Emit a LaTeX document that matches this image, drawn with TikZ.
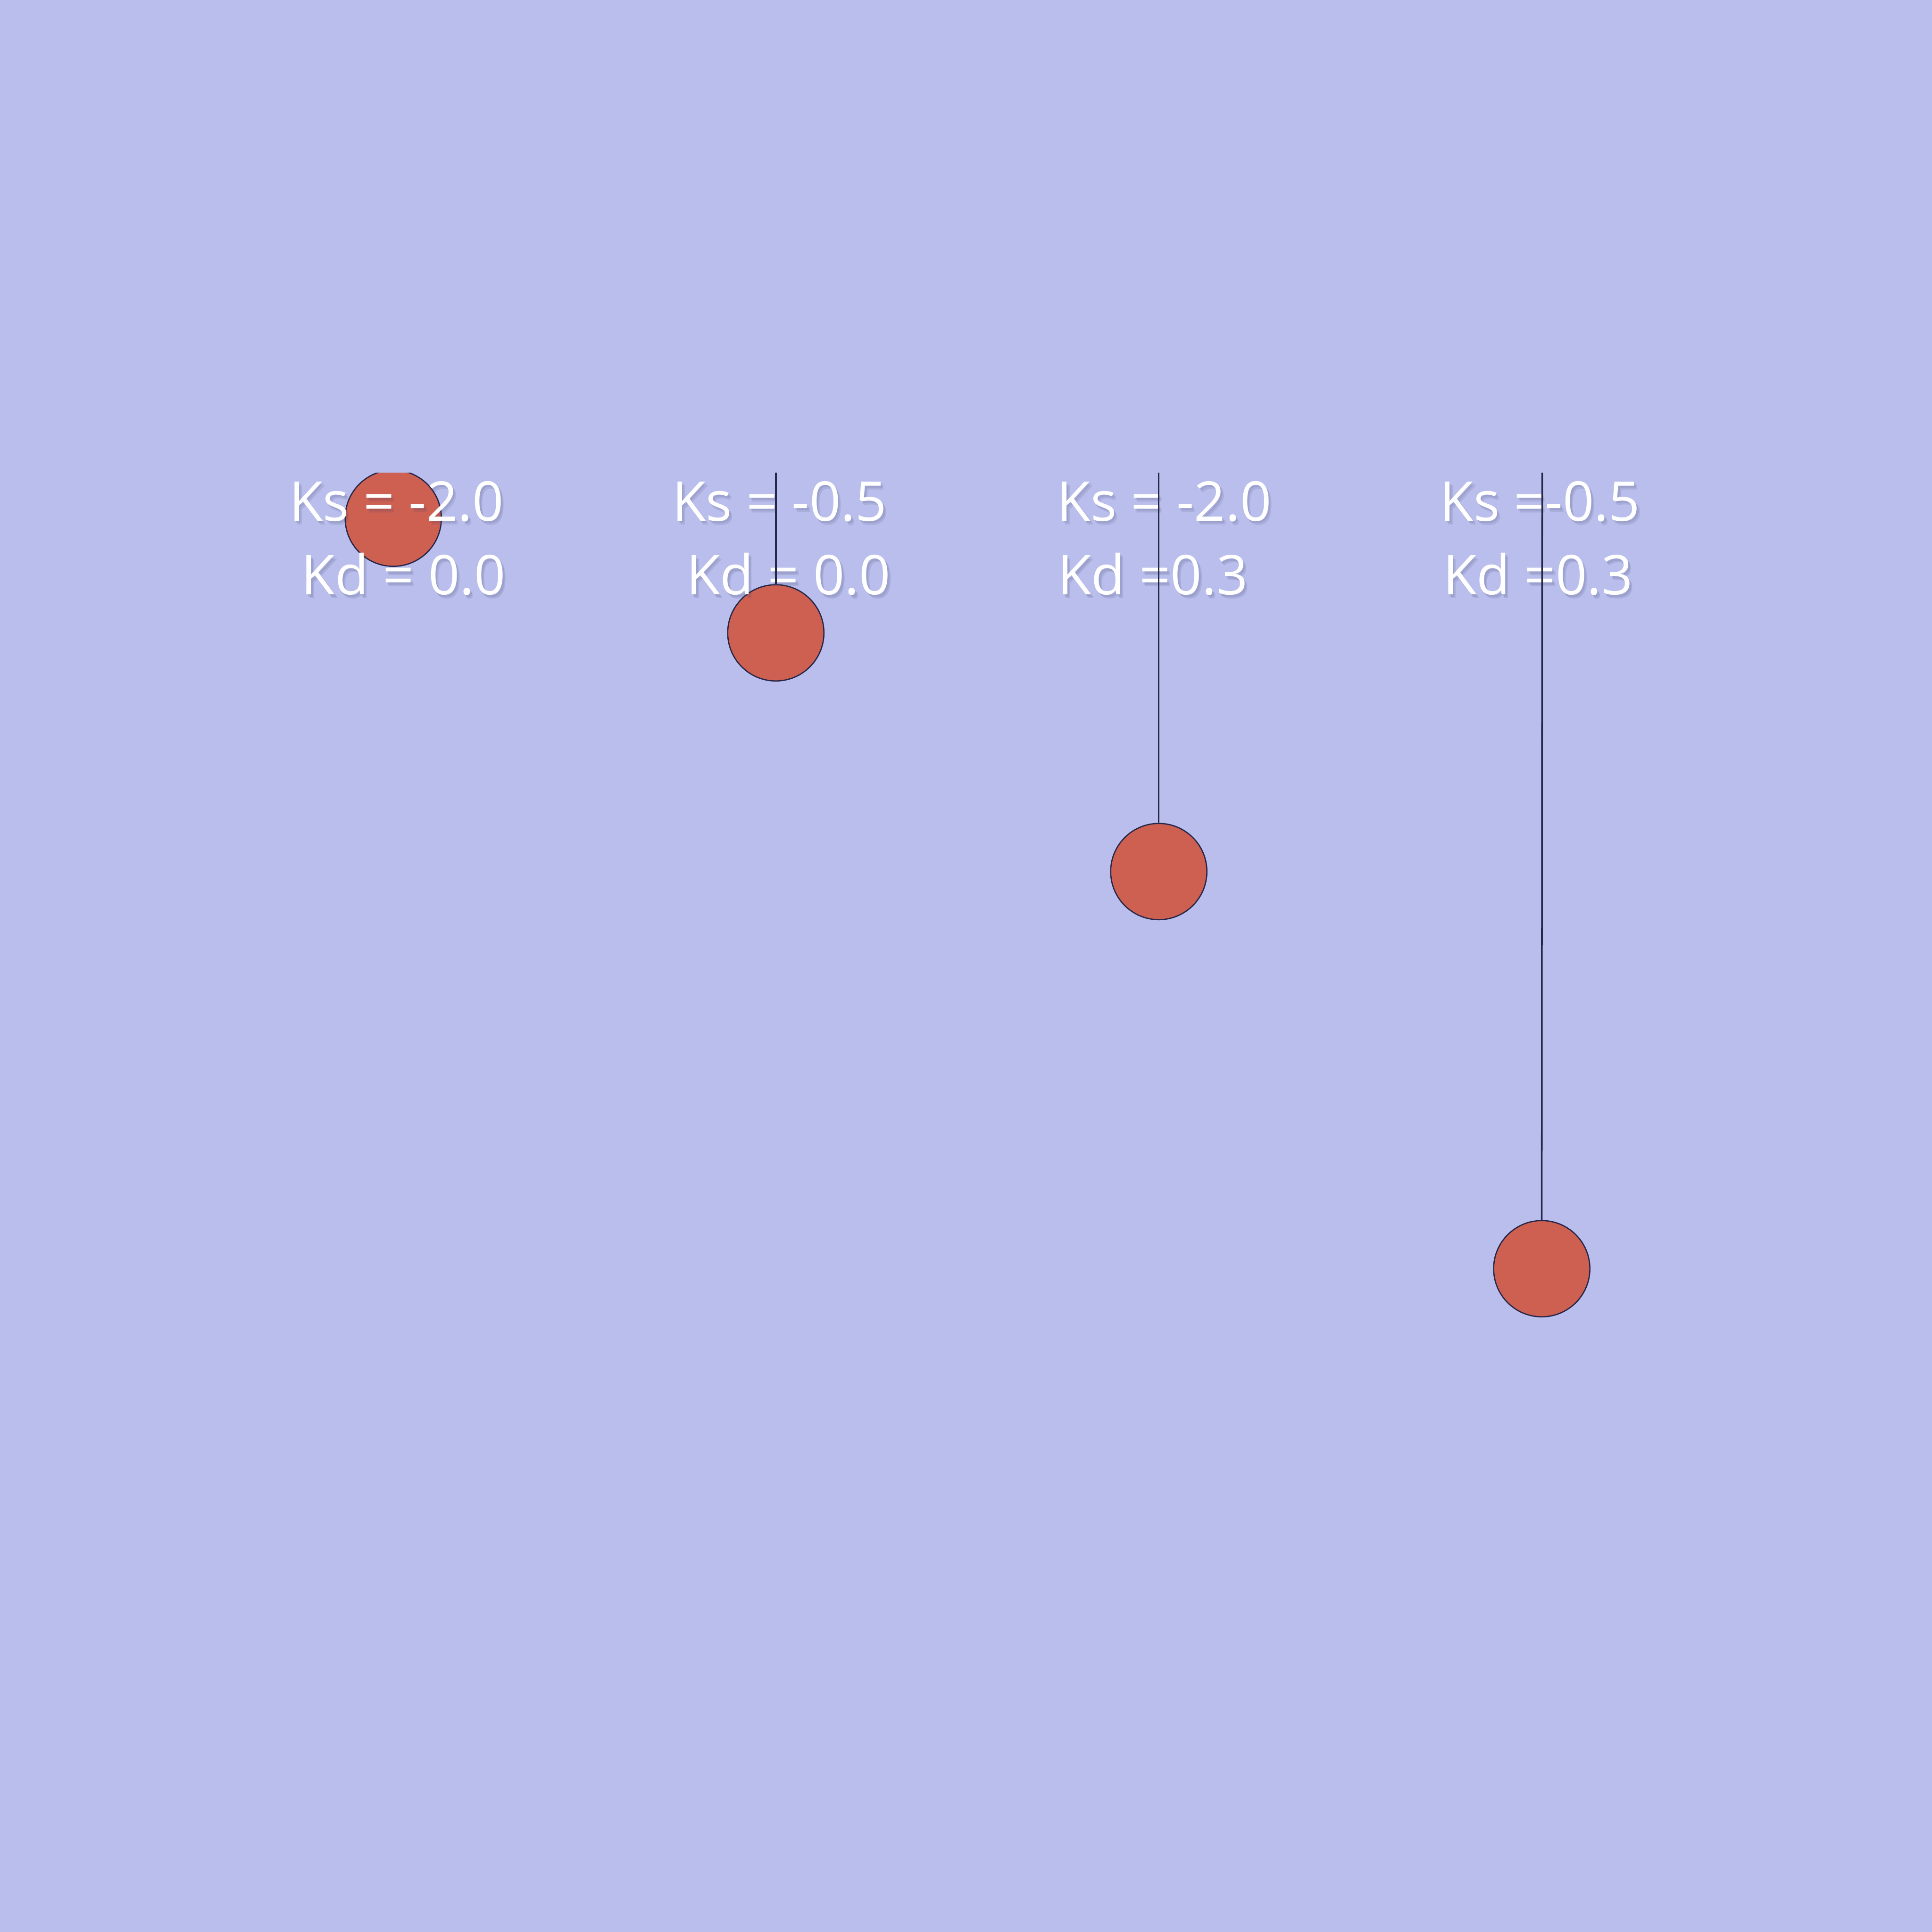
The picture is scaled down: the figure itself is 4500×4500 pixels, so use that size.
\documentclass[tikz,border=0pt]{standalone}
\usepackage{fontspec}
\setmainfont{Open Sans}
\definecolor{bg}{RGB}{185,190,236}
\definecolor{ballred}{RGB}{206,96,82}
\definecolor{navy}{RGB}{38,38,72}
\definecolor{shadowc}{RGB}{60,60,100}
\newcommand\labfont{\fontsize{36.3pt}{44pt}\selectfont}
\newcommand\klabel[3]{%
  \node[shd, xshift=0.04cm, yshift=-0.05cm] (#1s1) at (#2) {#3};
  \node[shd, xshift=0.07cm, yshift=-0.09cm] (#1s2) at (#2) {#3};
  \node[lbl] (#1) at (#2) {#3};}
\begin{document}
\begin{tikzpicture}[x=0.01cm,y=-0.01cm,
  ball/.style={circle, draw=navy, line width=0.8pt, fill=ballred, minimum size=2.24cm, inner sep=0pt},
  lbl/.style={anchor=base west, inner sep=0pt, text=white, font=\labfont},
  shd/.style={anchor=base west, inner sep=0pt, text=shadowc, text opacity=0.12, font=\labfont},
  spring/.style={draw=navy, line width=1.1pt}]
\fill[bg] (0,0) rectangle (4500,4500);
\useasboundingbox (0,0) rectangle (4500,4500);
% anchors
\coordinate (a2) at (1807,1101);
\coordinate (a3) at (2699,1101);
\coordinate (a4) at (3592,1101);
% balls
\begin{scope}
  \clip (0,1101) rectangle (4500,4500);
  \node[ball] (b1) at (916,1207) {};
\end{scope}
\node[ball] (b2) at (1807,1474) {};
\node[ball] (b3) at (2699,2030) {};
\node[ball] (b4) at (3591,2955) {};
% labels
\klabel{l1a}{673,1213}{Ks = -2.0}
\klabel{l1b}{701,1385}{Kd = 0.0}
\klabel{l2a}{1565,1213}{Ks = -0.5}
\klabel{l2b}{1598,1385}{Kd = 0.0}
\klabel{l3a}{2461,1213}{Ks = -2.0}
\klabel{l3b}{2463,1385}{Kd =0.3}
\klabel{l4a}{3353,1213}{Ks =-0.5}
\klabel{l4b}{3360,1385}{Kd =0.3}
% strings
\draw[spring] (a2) -- (b2.north);
\draw[spring] (a3) -- (b3.north);
\draw[spring] (a4) -- (b4.north);
\end{tikzpicture}
\end{document}
